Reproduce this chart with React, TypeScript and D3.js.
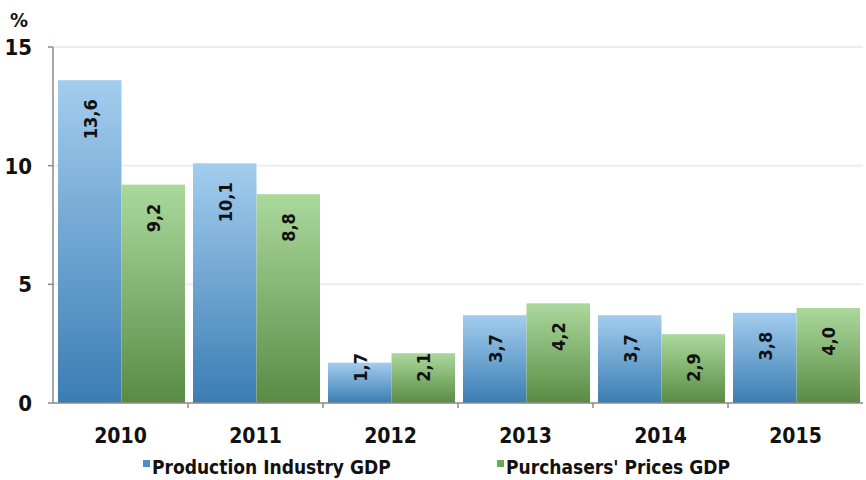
import React, { useRef, useEffect } from "react";
import * as d3 from "d3";

const years = ["2010", "2011", "2012", "2013", "2014", "2015"];
const production = [13.6, 10.1, 1.7, 3.7, 3.7, 3.8];
const purchasers = [9.2, 8.8, 2.1, 4.2, 2.9, 4.0];
const seriesNames = ["Production Industry GDP", "Purchasers' Prices GDP"];
const yTicks = [0, 5, 10, 15];

const FONT = "'DejaVu Sans Condensed', 'DejaVu Sans', sans-serif";

const App = () => {
  const svgRef = useRef<SVGSVGElement>(null);

  useEffect(() => {
    const width = 866;
    const height = 480;
    const margin = { top: 47, right: 3, bottom: 77, left: 53 };

    const svg = d3.select(svgRef.current).attr("width", width).attr("height", height);
    svg.selectAll("*").remove();

    const defs = svg.append("defs");
    const grads = [
      { id: "gBlue", top: "#a3cdee", bottom: "#3b7db3" },
      { id: "gGreen", top: "#abd99d", bottom: "#5a8b44" },
    ];
    grads.forEach((g) => {
      const lg = defs
        .append("linearGradient")
        .attr("id", g.id)
        .attr("x1", 0)
        .attr("y1", 0)
        .attr("x2", 0)
        .attr("y2", 1);
      lg.append("stop").attr("offset", "0%").attr("stop-color", g.top);
      lg.append("stop").attr("offset", "100%").attr("stop-color", g.bottom);
    });

    const x = d3
      .scaleBand()
      .domain(years)
      .range([margin.left, width - margin.right]);
    const y = d3
      .scaleLinear()
      .domain([0, 15])
      .range([height - margin.bottom, margin.top]);

    const g = svg.append("g");

    // grid
    g.selectAll(".grid")
      .data(yTicks.filter((t) => t > 0))
      .enter()
      .append("line")
      .attr("x1", margin.left)
      .attr("x2", width - margin.right)
      .attr("y1", (d) => y(d))
      .attr("y2", (d) => y(d))
      .attr("stroke", "#e6eff8")
      .attr("stroke-width", 2);

    // bars
    const inner = d3
      .scaleBand()
      .domain(["0", "1"])
      .range([5, x.bandwidth() - 3]);

    const series = [production, purchasers];
    const fills = ["url(#gBlue)", "url(#gGreen)"];

    series.forEach((vals, si) => {
      const data = years.map((yr, i) => ({ yr, v: vals[i] }));
      g.selectAll(".bar" + si)
        .data(data)
        .enter()
        .append("rect")
        .attr("x", (d) => (x(d.yr) as number) + (inner(String(si)) as number))
        .attr("y", (d) => y(d.v))
        .attr("width", inner.bandwidth())
        .attr("height", (d) => y(0) - y(d.v))
        .attr("fill", fills[si]);

      g.selectAll(".lbl" + si)
        .data(data)
        .enter()
        .append("text")
        .attr("transform", (d) => {
          const cx = (x(d.yr) as number) + (inner(String(si)) as number) + inner.bandwidth() / 2;
          const barH = y(0) - y(d.v);
          const pos = barH < 60 ? y(0) - 35 - 15 : y(d.v) + 19;
          return `translate(${cx + 7},${pos}) rotate(-90)`;
        })
        .attr("text-anchor", "end")
        .attr("font-family", FONT)
        .attr("font-weight", "bold")
        .attr("font-size", 18)
        .attr("fill", "#111")
        .text((d) => d.v.toFixed(1).replace(".", ","));
    });

    // y axis
    g.append("line")
      .attr("x1", margin.left)
      .attr("x2", margin.left)
      .attr("y1", y(15))
      .attr("y2", y(0))
      .attr("stroke", "#8a8a8a")
      .attr("stroke-width", 1.5);
    g.selectAll(".ytick")
      .data(yTicks)
      .enter()
      .append("line")
      .attr("x1", margin.left - 5)
      .attr("x2", margin.left)
      .attr("y1", (d) => y(d))
      .attr("y2", (d) => y(d))
      .attr("stroke", "#8a8a8a")
      .attr("stroke-width", 1.5);
    g.selectAll(".ylbl")
      .data(yTicks)
      .enter()
      .append("text")
      .attr("x", 32)
      .attr("y", (d) => y(d) + 8)
      .attr("text-anchor", "end")
      .attr("font-family", FONT)
      .attr("font-weight", "bold")
      .attr("font-size", 22)
      .attr("fill", "#111")
      .text((d) => d);
    g.append("text")
      .attr("x", 10)
      .attr("y", 27)
      .attr("font-family", FONT)
      .attr("font-weight", "bold")
      .attr("font-size", 20)
      .attr("fill", "#111")
      .text("%");

    // x axis
    g.append("line")
      .attr("x1", margin.left)
      .attr("x2", width - margin.right)
      .attr("y1", y(0))
      .attr("y2", y(0))
      .attr("stroke", "#8a8a8a")
      .attr("stroke-width", 1.5);
    g.selectAll(".xtick")
      .data(years.slice(1))
      .enter()
      .append("line")
      .attr("x1", (d) => x(d) as number)
      .attr("x2", (d) => x(d) as number)
      .attr("y1", y(0))
      .attr("y2", y(0) + 5)
      .attr("stroke", "#8a8a8a")
      .attr("stroke-width", 1.5);
    g.selectAll(".xlbl")
      .data(years)
      .enter()
      .append("text")
      .attr("x", (d) => (x(d) as number) + x.bandwidth() / 2)
      .attr("y", 443)
      .attr("text-anchor", "middle")
      .attr("font-family", FONT)
      .attr("font-weight", "bold")
      .attr("font-size", 21)
      .attr("fill", "#111")
      .text((d) => d);

    // legend
    const legendX = [143, 497];
    const legendFill = ["#4d8fc6", "#6aa856"];
    seriesNames.forEach((name, i) => {
      g.append("rect")
        .attr("x", legendX[i])
        .attr("y", 460)
        .attr("width", 7)
        .attr("height", 7)
        .attr("fill", legendFill[i]);
      g.append("text")
        .attr("x", legendX[i] + 9)
        .attr("y", 474)
        .attr("font-family", FONT)
        .attr("font-weight", "bold")
        .attr("font-size", 19)
        .attr("fill", "#111")
        .text(name);
    });
  }, []);

  return <svg ref={svgRef} style={{ position: "absolute", left: 0, top: 0 }}></svg>;
};

export default App;
